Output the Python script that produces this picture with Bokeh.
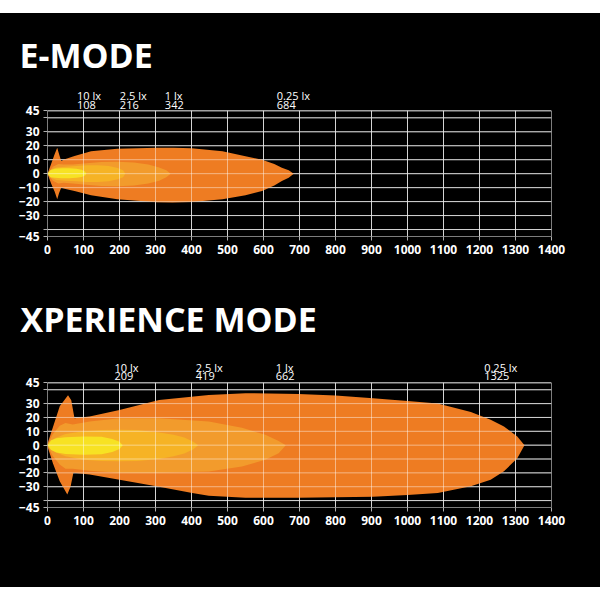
from bokeh.plotting import figure
from bokeh.layouts import column
from bokeh.models import FixedTicker, Range1d, Spacer, ColumnDataSource
from bokeh.embed import file_html
from bokeh.resources import INLINE
from bokeh.core.properties import value

# ---------------- data ----------------
x_ticks = [0, 100, 200, 300, 400, 500, 600, 700, 800, 900, 1000, 1100, 1200, 1300, 1400]
y_ticks = [-45, -40, -30, -20, -10, 0, 10, 20, 30, 40, 45]
y_hidden = [-40, 40]

lux_levels = ["10 lx", "2.5 lx", "1 lx", "0.25 lx"]
e_distances = [108, 216, 342, 684]
x_distances = [209, 419, 662, 1325]

# E-MODE isolux contours (distance m, angle deg)
e_025_up_x = [0, 10, 20, 27, 32, 38, 50, 75, 121, 194, 305, 350, 400, 486, 550, 596, 630, 651, 670, 684]
e_025_up_y = [0, 7, 14, 18.6, 14, 9, 10.5, 12.6, 16, 17.9, 18.6, 18.6, 18.2, 16, 12.5, 10, 7, 4.3, 2.5, 0]
e_025_lo_x = [0, 10, 20, 27, 32, 38, 50, 75, 121, 194, 305, 347, 400, 486, 550, 596, 630, 651, 670, 684]
e_025_lo_y = [0, -7, -13, -18.3, -14, -10, -11, -12.4, -15.4, -18.3, -20.5, -20.7, -20.3, -18.3, -15.5, -12.4, -8.5, -5.2, -3, 0]

e_1_x = [0, 15, 30, 45, 70, 108, 150, 194, 240, 280, 310, 330, 342]
e_1_up_y = [0, 5, 7, 6.5, 6.5, 7.5, 8.4, 8.6, 8, 6.5, 4.5, 2.5, 0]
e_1_lo_y = [0, -5, -7, -6.5, -7, -8, -8.8, -9, -8.5, -7, -5, -2.5, 0]

e_25_x = [0, 10, 25, 50, 80, 110, 140, 170, 195, 210, 216]
e_25_up_y = [0, 3, 4.5, 5, 5.5, 6, 6, 5.5, 4, 2.5, 0]
e_25_lo_y = [0, -3, -4.5, -5, -5.5, -6, -6, -5.5, -4, -2.5, 0]

e_10_x = [0, 8, 20, 40, 60, 80, 95, 104, 108]
e_10_up_y = [0, 2.5, 3.5, 3.8, 3.9, 3.6, 2.8, 1.6, 0]
e_10_lo_y = [0, -2.5, -3, -3.2, -3.2, -3, -2.4, -1.4, 0]

# XPERIENCE MODE isolux contours
x_025_up_x = [0, 15, 34, 57, 66, 75, 117, 200, 310, 448, 550, 697, 800, 904, 1000, 1084, 1176, 1231, 1268, 1305, 1325]
x_025_up_y = [1, 13, 28, 36, 32.5, 19.4, 20.6, 25.4, 32.6, 36.2, 37.5, 37, 35.8, 33.8, 31.8, 30, 24, 18.3, 13.4, 6.3, 0]
x_025_lo_x = [0, 15, 34, 55, 64, 72, 117, 200, 310, 402, 448, 550, 697, 800, 904, 1000, 1084, 1176, 1231, 1268, 1305, 1325]
x_025_lo_y = [-1, -13, -26, -35.7, -30, -20, -21.2, -25, -30, -34.5, -36.5, -38, -38, -37.6, -37.2, -36, -34.5, -29.7, -24.9, -18.9, -9.4, 0]

x_1_x = [0, 15, 34, 50, 70, 117, 200, 310, 448, 540, 605, 642, 662]
x_1_up_y = [0.5, 8, 14, 16, 15, 17, 19.4, 19.4, 17, 12.5, 7.5, 3, 0]
x_1_lo_y = [-0.5, -8, -14, -17, -17, -18.5, -20, -20, -19, -15.4, -10.6, -5.8, 0]

x_25_x = [0, 20, 50, 100, 150, 200, 250, 310, 350, 380, 405, 419]
x_25_up_y = [0, 5, 8, 10, 11, 11.2, 11, 9.2, 7.5, 5.5, 2.5, 0]
x_25_lo_y = [0, -5, -8, -10.5, -11.5, -11.7, -11.5, -10, -8, -6, -3, 0]

x_10_x = [0, 10, 25, 50, 100, 150, 180, 200, 209]
x_10_up_y = [0, 3.5, 5, 5.8, 6.3, 6, 4.5, 2.5, 0]
x_10_lo_y = [0, -3.5, -5.3, -6.3, -6.9, -6.5, -5, -2.8, 0]

# ---------------- style / layout ----------------
C_025 = "#EE7C22"
C_1 = "#F29B2C"
C_25 = "#F6B325"
C_10 = "#F7E223"
GRID_C = "#b0b0b0"
FONT = "Open Sans"

# lux caption anchors (data units)
e_label_x = [82, 201, 326, 637]
x_label_x = [186, 412, 634, 1213]


def outline(ux, uy, lx, ly):
    return list(ux) + list(lx)[::-1], list(uy) + list(ly)[::-1]


def make_chart(title, contours, distances, label_x, lab_y1, lab_y2, y_top,
               height, mb_left, mb_right, mb_top, mb_bottom, title_standoff, title_offset):
    p = figure(width=600, height=height, x_range=Range1d(0, 1400), y_range=Range1d(-45, y_top),
               output_backend="svg", toolbar_location=None,
               min_border_left=mb_left, min_border_right=mb_right,
               min_border_top=mb_top, min_border_bottom=mb_bottom)
    p.background_fill_color = "black"
    p.border_fill_color = "black"
    p.outline_line_color = None
    p.xgrid.visible = False
    p.ygrid.visible = False

    p.title.text = title
    p.title.align = "left"
    p.title.offset = title_offset
    p.title.standoff = title_standoff
    p.title.text_color = "white"
    p.title.text_font = FONT
    p.title.text_font_style = "bold"
    p.title.text_font_size = "34px"

    for ax, ticks in ((p.xaxis[0], x_ticks), (p.yaxis[0], y_ticks)):
        ax.ticker = FixedTicker(ticks=ticks)
        ax.axis_line_color = None
        ax.major_tick_out = 4
        ax.major_tick_in = 0
        ax.major_tick_line_color = GRID_C
        ax.minor_tick_line_color = None
        ax.major_label_text_color = "white"
        ax.major_label_text_font = FONT
        ax.major_label_text_font_style = "bold"
        ax.major_label_text_font_size = "12px"
    p.xaxis[0].major_label_standoff = 4
    p.yaxis[0].major_label_standoff = 4
    p.yaxis[0].bounds = (-45, 45)
    p.yaxis[0].major_label_overrides = {t: "" for t in y_hidden}

    n_x, n_y = len(x_ticks), len(y_ticks)
    grid_v = dict(x0=x_ticks, y0=[-45] * n_x, x1=x_ticks, y1=[45] * n_x)
    grid_h = dict(x0=[0] * n_y, y0=y_ticks, x1=[1400] * n_y, y1=y_ticks)

    # grid under the beam
    p.segment(line_color=GRID_C, line_width=1, **grid_v)
    p.segment(line_color=GRID_C, line_width=1, **grid_h)

    for (ux, uy, lx, ly, col) in contours:
        xs, ys = outline(ux, uy, lx, ly)
        p.patch(xs, ys, fill_color=col, line_color=None)

    # grid showing through the beam
    p.segment(line_color="white", line_alpha=0.45, line_width=1, **grid_v)
    p.segment(line_color="white", line_alpha=0.45, line_width=1, **grid_h)

    src = ColumnDataSource(dict(x=label_x, lux=lux_levels, dist=[str(d) for d in distances]))
    p.text(x="x", y=lab_y1, text="lux", source=src, text_color="white", text_font=value(FONT),
           text_font_size="11px", text_baseline="alphabetic", text_align="left")
    p.text(x="x", y=lab_y2, text="dist", source=src, text_color="white", text_font=value(FONT),
           text_font_size="11px", text_baseline="alphabetic", text_align="left")
    return p


e_contours = [
    (e_025_up_x, e_025_up_y, e_025_lo_x, e_025_lo_y, C_025),
    (e_1_x, e_1_up_y, e_1_x, e_1_lo_y, C_1),
    (e_25_x, e_25_up_y, e_25_x, e_25_lo_y, C_25),
    (e_10_x, e_10_up_y, e_10_x, e_10_lo_y, C_10),
]
x_contours = [
    (x_025_up_x, x_025_up_y, x_025_lo_x, x_025_lo_y, C_025),
    (x_1_x, x_1_up_y, x_1_x, x_1_lo_y, C_1),
    (x_25_x, x_25_up_y, x_25_x, x_25_lo_y, C_25),
    (x_10_x, x_10_up_y, x_10_x, x_10_lo_y, C_10),
]

p1 = make_chart("E-MODE", e_contours, e_distances, e_label_x, 55.7, 49.2, 66,
                height=257, mb_left=40, mb_right=49, mb_top=68, mb_bottom=34,
                title_standoff=8, title_offset=-28)
p2 = make_chart("XPERIENCE MODE", x_contours, x_distances, x_label_x, 55.9, 50.1, 64,
                height=317, mb_left=47, mb_right=44, mb_top=86, mb_bottom=80,
                title_standoff=30, title_offset=-27)

charts = column(p1, p2, spacing=0, styles={"background-color": "black"})
layout = column(Spacer(width=600, height=13), charts, spacing=0)
open("out.html", "w").write(file_html(layout, INLINE))
